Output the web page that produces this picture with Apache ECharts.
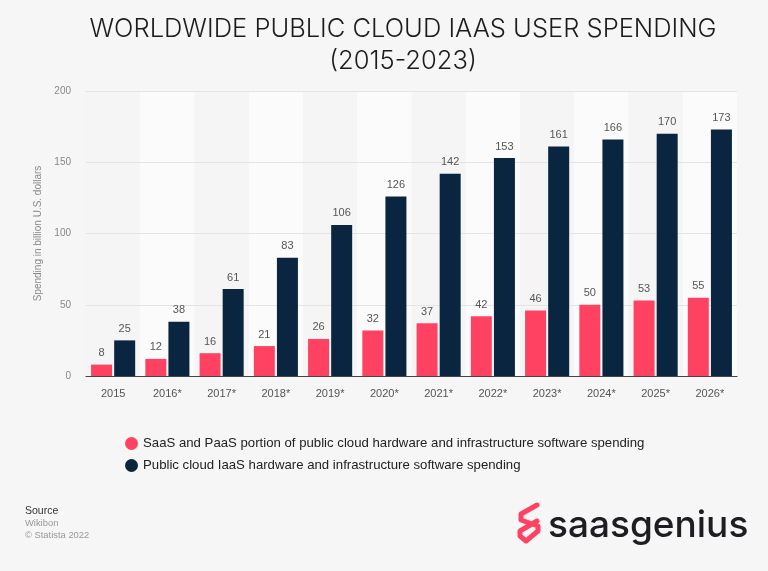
<!DOCTYPE html>
<html>
<head>
<meta charset="utf-8">
<style>
html, body { margin: 0; padding: 0; background: #f6f6f6; }
#main { width: 768px; height: 571px; }
</style>
<script src="https://cdn.jsdelivr.net/npm/echarts@6/dist/echarts.min.js"></script>
</head>
<body>
<div id="main"></div>
<script>
var categories = ['2015', '2016*', '2017*', '2018*', '2019*', '2020*', '2021*', '2022*', '2023*', '2024*', '2025*', '2026*'];
var saasValues = [8, 12, 16, 21, 26, 32, 37, 42, 46, 50, 53, 55];
var iaasValues = [25, 38, 61, 83, 106, 126, 142, 153, 161, 166, 170, 173];
var yTicks = { min: 0, max: 200, interval: 50 };
var saasName = 'SaaS and PaaS portion of public cloud hardware and infrastructure software spending';
var iaasName = 'Public cloud IaaS hardware and infrastructure software spending';

var chart = echarts.init(document.getElementById('main'));

function barLabel() {
    return { show: true, position: 'top', distance: 6, color: '#555', fontSize: 11, fontFamily: 'Liberation Sans' };
}

var option = {
    backgroundColor: '#f6f6f6',
    animation: false,
    textStyle: { fontFamily: 'Liberation Sans' },
    title: {
        text: 'WORLDWIDE PUBLIC CLOUD IAAS USER SPENDING\n(2015-2023)',
        left: 398,
        top: 8,
        textAlign: 'center',
        textStyle: { fontFamily: 'Inter', fontSize: 25.5, fontWeight: 300, color: '#1c1c1c', lineHeight: 32 }
    },
    grid: { left: 86, right: 31, top: 91, bottom: 195, containLabel: false },
    legend: {
        orient: 'vertical',
        left: 120,
        top: 432,
        itemWidth: 13,
        itemHeight: 13,
        itemGap: 9,
        icon: 'circle',
        data: [saasName, iaasName],
        textStyle: { fontSize: 13.2, color: '#222', fontWeight: 500, fontFamily: 'Liberation Sans' }
    },
    xAxis: {
        type: 'category',
        data: categories,
        axisTick: { show: false },
        axisLine: { lineStyle: { color: '#444', width: 1.2 } },
        axisLabel: { color: '#555', fontSize: 11, margin: 12 },
        splitArea: { show: true, areaStyle: { color: ['#f5f5f5', '#fbfbfb'] } }
    },
    yAxis: {
        type: 'value',
        z: 1,
        min: yTicks.min,
        max: yTicks.max,
        interval: yTicks.interval,
        name: 'Spending in billion U.S. dollars',
        nameLocation: 'middle',
        nameGap: 39,
        nameTextStyle: { color: '#888', fontSize: 10 },
        axisLine: { show: false },
        axisTick: { show: false },
        axisLabel: { color: '#888', fontSize: 10, margin: 15 },
        splitLine: { showMinLine: false, lineStyle: { color: '#e4e4e4', width: 1 } }
    },
    series: [
        { name: saasName, type: 'bar', data: saasValues, barWidth: 21, barGap: '10%', itemStyle: { color: '#ff4262' }, label: barLabel() },
        { name: iaasName, type: 'bar', data: iaasValues, barWidth: 21, itemStyle: { color: '#0a2540' }, label: barLabel() }
    ],
    graphic: [
        { type: 'text', left: 25, top: 506, style: { text: 'Source', fill: '#333', font: '10.5px "Liberation Sans"' } },
        { type: 'text', left: 25, top: 519, style: { text: 'Wikibon', fill: '#999', font: '9.4px "Liberation Sans"' } },
        { type: 'text', left: 25, top: 531, style: { text: '\u00a9 Statista 2022', fill: '#999', font: '9.4px "Liberation Sans"' } },
        { type: 'text', left: 548, top: 507, style: { text: 'saasgenius', fill: '#1d1d22', font: '500 37px "Inter"' } },
        // logo mark
        { type: 'polyline', shape: { points: [[537, 505], [521, 514], [521, 520], [538, 526], [538, 531], [526, 541], [520, 536], [520, 531], [537, 521]] },
          style: { stroke: '#ff4262', lineWidth: 5, fill: null, lineJoin: 'round', lineCap: 'round' } }
    ]
};
chart.setOption(option);
</script>
</body>
</html>
